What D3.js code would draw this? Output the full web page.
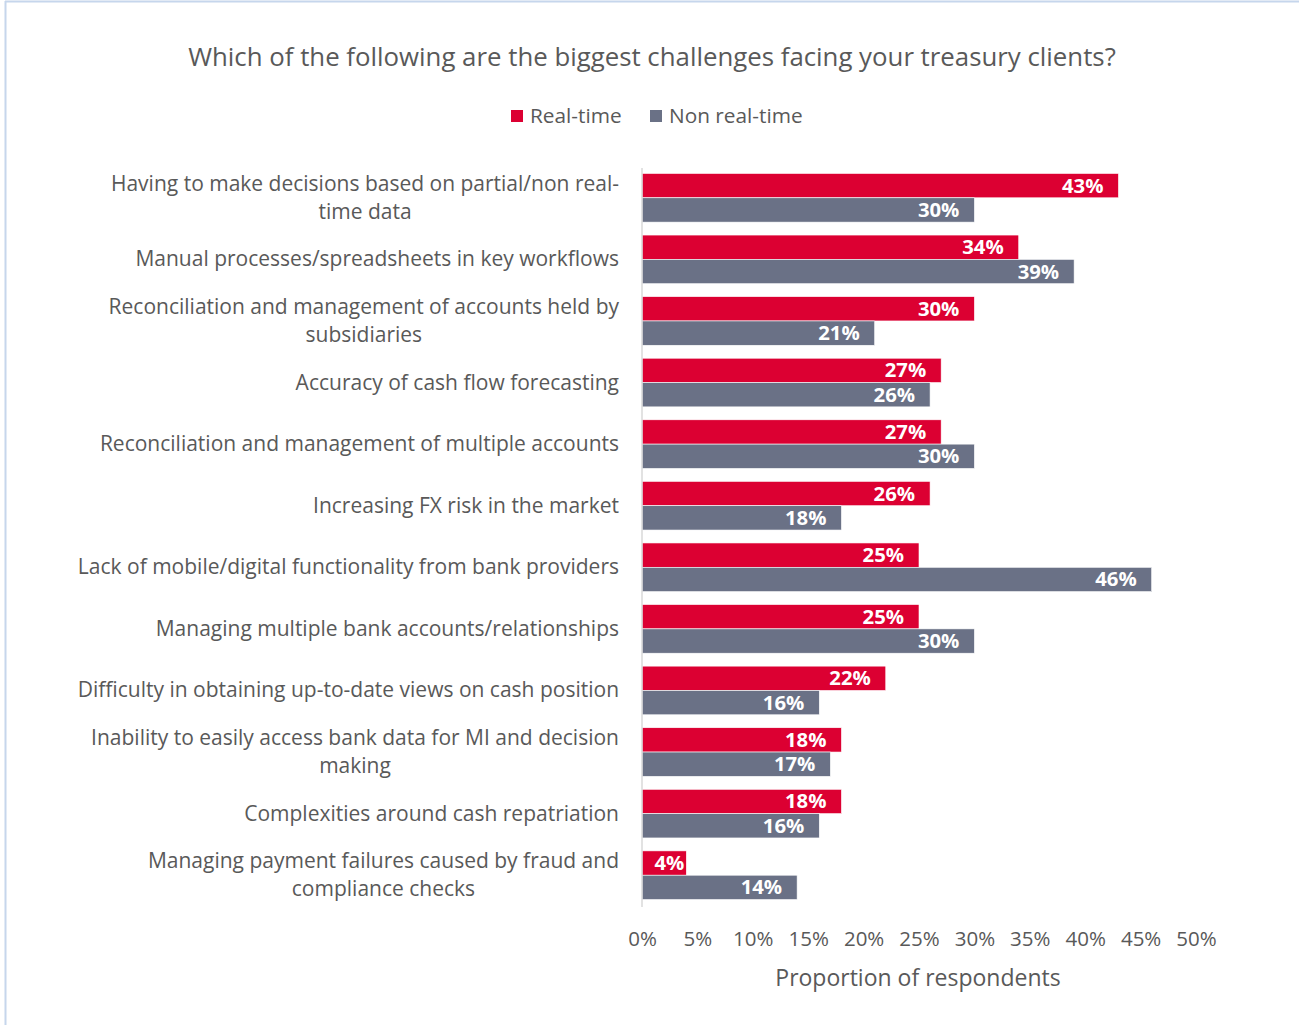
<!DOCTYPE html>
<html>
<head>
<meta charset="utf-8">
<script src="https://cdn.jsdelivr.net/npm/d3@7"></script>
<style>
  html, body { margin: 0; padding: 0; background: #fff; }
  svg { display: block; }
  text { font-family: "Open Sans", Lato, sans-serif; }
</style>
</head>
<body>
<svg id="chart" width="1299" height="1025"></svg>
<script>
// Survey answers: share of respondents naming each challenge
const categories = [
  ["Having to make decisions based on partial/non real-", "time data"],
  ["Manual processes/spreadsheets in key workflows"],
  ["Reconciliation and management of accounts held by", "subsidiaries"],
  ["Accuracy of cash flow forecasting"],
  ["Reconciliation and management of multiple accounts"],
  ["Increasing FX risk in the market"],
  ["Lack of mobile/digital functionality from bank providers"],
  ["Managing multiple bank accounts/relationships"],
  ["Difficulty in obtaining up-to-date views on cash position"],
  ["Inability to easily access bank data for MI and decision", "making"],
  ["Complexities around cash repatriation"],
  ["Managing payment failures caused by fraud and", "compliance checks"]
];
const realTime    = [43, 34, 30, 27, 27, 26, 25, 25, 22, 18, 18, 4];
const nonRealTime = [30, 39, 21, 26, 30, 18, 46, 30, 16, 17, 16, 14];
const seriesNames = ["Real-time", "Non real-time"];
const xTicks = [0, 5, 10, 15, 20, 25, 30, 35, 40, 45, 50];

const colors = { "Real-time": "#DC0032", "Non real-time": "#6A7186" };
const textColor = "#595959";

const svg = d3.select("#chart");

// outer frame
svg.append("line").attr("x1", 5.5).attr("x2", 5.5).attr("y1", 1).attr("y2", 1025)
  .attr("stroke", "#C6D6EC").attr("stroke-width", 2);
svg.append("line").attr("x1", 5).attr("x2", 1299).attr("y1", 1.5).attr("y2", 1.5)
  .attr("stroke", "#C6D6EC").attr("stroke-width", 2);

// title
svg.append("text")
  .attr("x", 652).attr("y", 66)
  .attr("text-anchor", "middle")
  .attr("fill", textColor)
  .style("font-size", "25.8px")
  .text("Which of the following are the biggest challenges facing your treasury clients?");

// legend
const legendItems = [{ name: seriesNames[0], x: 511 }, { name: seriesNames[1], x: 650 }];
legendItems.forEach(d => {
  svg.append("rect").attr("x", d.x).attr("y", 110).attr("width", 12).attr("height", 12)
    .attr("fill", colors[d.name]);
  svg.append("text").attr("x", d.x + 19).attr("y", 123)
    .attr("fill", textColor).style("font-size", "20.8px").text(d.name);
});

const x = d3.scaleLinear().domain([0, 50]).range([642, 1196]);
const y = d3.scaleBand().domain(d3.range(categories.length))
  .range([167, 906]).paddingInner(0.21).paddingOuter(0.105);
const sub = d3.scaleBand().domain(seriesNames).range([0, y.bandwidth()]).padding(0);

const data = categories.map((c, i) => ({
  i, lines: c,
  values: [
    { name: seriesNames[0], v: realTime[i] },
    { name: seriesNames[1], v: nonRealTime[i] }
  ]
}));

const groups = svg.append("g").selectAll("g").data(data).join("g")
  .attr("transform", d => `translate(0,${y(d.i)})`);

groups.selectAll("rect").data(d => d.values).join("rect")
  .attr("x", x(0))
  .attr("y", d => sub(d.name))
  .attr("width", d => x(d.v) - x(0))
  .attr("height", sub.bandwidth())
  .attr("fill", d => colors[d.name])
  .attr("stroke", "#fff").attr("stroke-width", 0.6);

// value labels sit inside the bar end; short bars get a tighter margin
groups.selectAll("text.val").data(d => d.values).join("text")
  .attr("class", "val")
  .attr("y", d => sub(d.name) + sub.bandwidth() / 2 + 7)
  .attr("text-anchor", "end")
  .attr("fill", "#fff")
  .style("font-size", "20.3px").style("font-weight", "bold")
  .text(d => d.v + "%")
  .attr("x", function(d) {
    const w = this.getComputedTextLength();
    return (x(d.v) - 15 - w < x(0) + 4) ? x(d.v) - 2 : x(d.v) - 15;
  });

// category labels: multi-line labels are centred on each other, block right-aligned
groups.each(function(d) {
  const g = d3.select(this);
  const lineH = 28;
  const cy = y.bandwidth() / 2;
  const t = g.append("text").attr("fill", textColor).style("font-size", "21px")
    .attr("text-anchor", "middle");
  const spans = d.lines.map((s, k) => t.append("tspan").attr("x", 0)
    .attr("y", cy + 7 + (k - (d.lines.length - 1) / 2) * lineH).text(s));
  const w = d3.max(spans, s => s.node().getComputedTextLength());
  t.attr("transform", `translate(${619 - w / 2},0)`);
});

// vertical axis line
svg.append("line").attr("x1", x(0)).attr("x2", x(0)).attr("y1", 168).attr("y2", 907)
  .attr("stroke", "#D9D9D9").attr("stroke-width", 1.5);

// x axis tick labels
const xAxis = svg.append("g").attr("transform", "translate(0,931)")
  .call(d3.axisBottom(x).tickValues(xTicks).tickFormat(d => d + "%").tickSize(0).tickPadding(0));
xAxis.select(".domain").remove();
xAxis.selectAll("text").attr("fill", textColor).style("font-size", "20.5px")
  .style("font-family", "'Open Sans', Lato, sans-serif").attr("dy", "0.71em");

svg.append("text").attr("x", 918).attr("y", 986).attr("text-anchor", "middle")
  .attr("fill", textColor).style("font-size", "23px").text("Proportion of respondents");
</script>
</body>
</html>
